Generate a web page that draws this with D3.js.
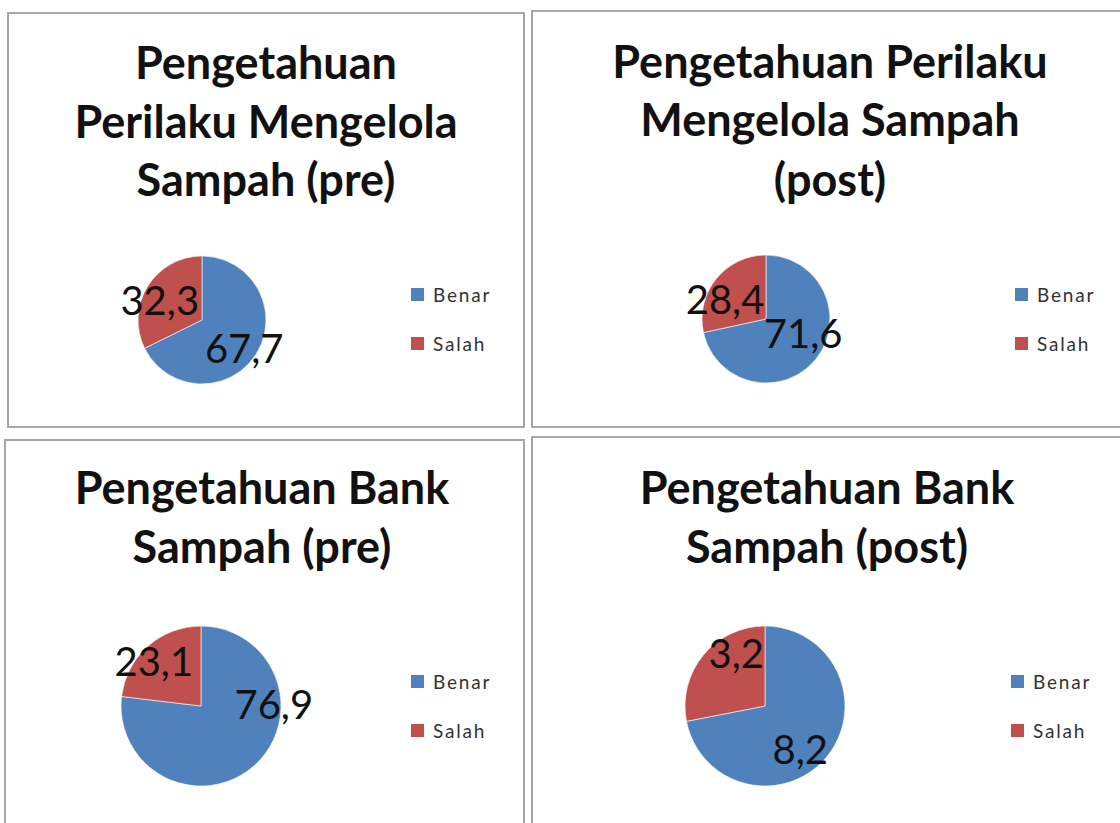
<!DOCTYPE html>
<html>
<head>
<meta charset="utf-8">
<script src="https://cdn.jsdelivr.net/npm/d3@7/dist/d3.min.js"></script>
<style>
  html, body { margin: 0; padding: 0; background: #ffffff; }
  svg { display: block; }
</style>
</head>
<body>
<svg id="chart" width="1120" height="823"></svg>
<script>
// Survey results: knowledge of waste handling and waste bank, before/after
const chartTitles = [
  ["Pengetahuan", "Perilaku Mengelola", "Sampah (pre)"],
  ["Pengetahuan Perilaku", "Mengelola Sampah", "(post)"],
  ["Pengetahuan Bank", "Sampah (pre)"],
  ["Pengetahuan Bank", "Sampah (post)"]
];
const categories = ["Benar", "Salah"];
const benarValues = [67.7, 71.6, 76.9, 8.2];
const salahValues = [32.3, 28.4, 23.1, 3.2];

const colors = d3.scaleOrdinal().domain(categories).range(["#4f81bd", "#c0504d"]);
const fmt = d3.formatLocale({ decimal: ",", thousands: ".", grouping: [3], currency: ["", ""] }).format(".1f");

// Panel frames and placement of each chart
const layout = [
  { x: 8,   y: 13,  w: 516, h: 414, cx: 202, cy: 320, r: 64, tx: 266, ty: [79, 138, 196], lx: 411, ly: 288,
    nudge: [[0.66, 0.44], [-0.66, -0.30]] },
  { x: 532, y: 11,  w: 600, h: 416, cx: 766, cy: 319, r: 64, tx: 830, ty: [78, 136, 196], lx: 1015, ly: 288,
    nudge: [[0.58, 0.23], [-0.64, -0.31]] },
  { x: 5,   y: 440, w: 519, h: 400, cx: 201, cy: 706, r: 80, tx: 262, ty: [504, 563], lx: 411, ly: 675,
    nudge: [[0.91, -0.02], [-0.59, -0.56]] },
  { x: 532, y: 437, w: 600, h: 400, cx: 765, cy: 706, r: 80, tx: 827, ty: [504, 563], lx: 1011, ly: 675,
    nudge: [[0.44, 0.54], [-0.36, -0.65]] }
];

const svg = d3.select("#chart");
const pie = d3.pie().sort(null).value(d => d.value);

layout.forEach((L, i) => {
  const g = svg.append("g");
  const rows = categories.map((c, k) => ({ cat: c, value: k === 0 ? benarValues[i] : salahValues[i] }));

  // frame
  g.append("rect")
    .attr("x", L.x).attr("y", L.y).attr("width", L.w).attr("height", L.h)
    .attr("fill", "#ffffff").attr("stroke", "#a6a6a6").attr("stroke-width", 2);

  // title
  g.selectAll("text.title").data(chartTitles[i]).join("text")
    .attr("class", "title")
    .attr("x", L.tx).attr("y", (d, k) => L.ty[k])
    .attr("text-anchor", "middle")
    .attr("font-family", "Lato, 'Open Sans', sans-serif")
    .attr("font-weight", 700)
    .attr("font-size", 45)
    .attr("fill", "#111111")
    .text(d => d);

  // pie
  const arc = d3.arc().innerRadius(0).outerRadius(L.r);
  const pg = g.append("g").attr("transform", `translate(${L.cx},${L.cy})`);
  const arcs = pie(rows);
  pg.selectAll("path").data(arcs).join("path")
    .attr("d", arc)
    .attr("fill", d => colors(d.data.cat))
    .attr("stroke", "#ffffff").attr("stroke-width", 0.6);

  // data labels
  pg.selectAll("text").data(arcs).join("text")
    .attr("x", (d, k) => L.nudge[k][0] * L.r)
    .attr("y", (d, k) => L.nudge[k][1] * L.r)
    .attr("dy", "0.36em")
    .attr("text-anchor", "middle")
    .attr("font-family", "Lato, 'Open Sans', sans-serif")
    .attr("font-size", 40)
    .attr("fill", "#111111")
    .text(d => fmt(d.data.value));

  // legend
  const lg = g.append("g").attr("transform", `translate(${L.lx},${L.ly})`);
  const items = lg.selectAll("g").data(categories).join("g")
    .attr("transform", (d, k) => `translate(0,${k * 49})`);
  items.append("rect").attr("width", 13).attr("height", 13).attr("fill", d => colors(d));
  items.append("text")
    .attr("x", 22).attr("y", 14)
    .attr("font-family", "Lato, 'DejaVu Sans', sans-serif")
    .attr("font-size", 19)
    .attr("letter-spacing", 1.8)
    .attr("fill", "#333333")
    .text(d => d);
});
</script>
</body>
</html>
